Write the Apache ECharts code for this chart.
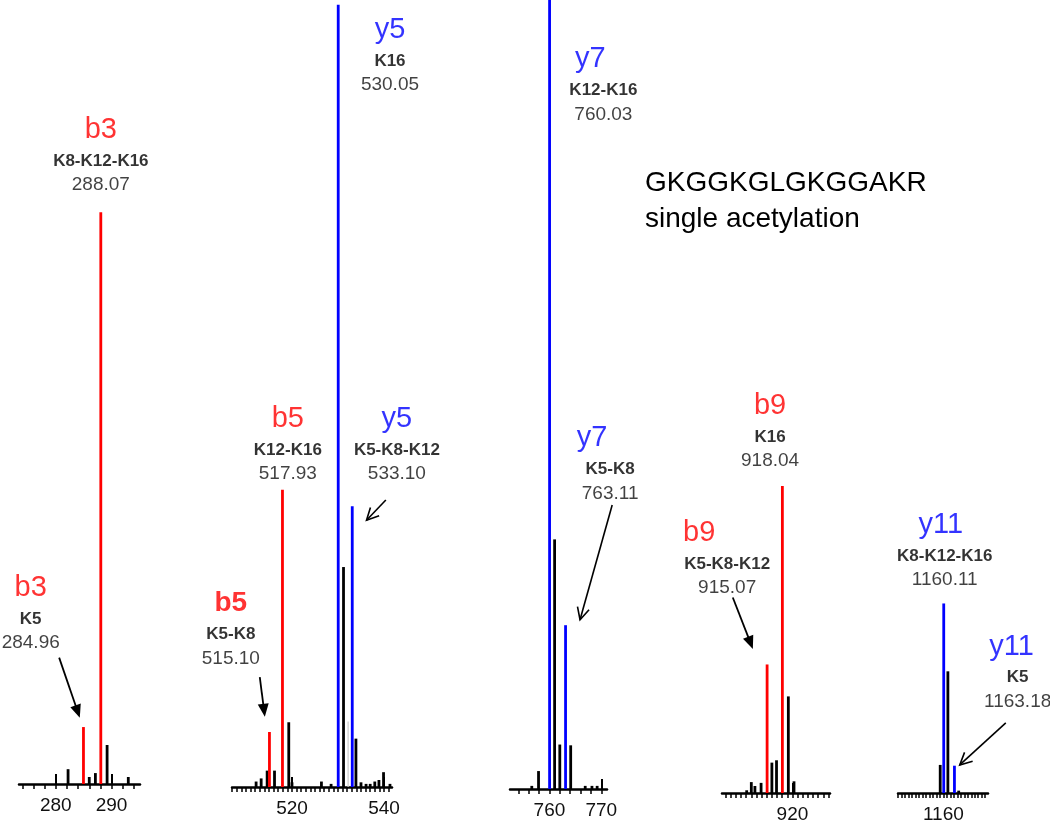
<!DOCTYPE html>
<html><head><meta charset="utf-8">
<script src="https://cdn.jsdelivr.net/npm/echarts@6/dist/echarts.min.js"></script>
<style>html,body{margin:0;padding:0;background:#fff}#c{width:1050px;height:824px}</style>
</head><body><div id="c"></div>
<script>
// ---------- DATA ----------
// peak m/z, relative intensity (% of full panel height) and ion colour code
const p1Mz  = [282.2, 284.96, 286.0, 287.1, 288.07, 289.2, 293.0];
const p1Int = [1.9, 7.3, 0.9, 1.4, 73.3, 5.0, 0.9];
const p1Ion = ['k','r','k','k','r','k','k'];

const p2Mz  = [512.2, 513.3, 514.6, 515.10, 516.2, 517.93, 519.3, 520.0, 526.4, 528.5, 530.05, 531.2, 532.2, 533.10, 533.9, 535.0, 536.1, 537.0, 538.0, 538.9, 539.9, 541.3];
const p2Int = [0.7, 1.1, 2.1, 7.05, 2.1, 38.1, 8.3, 0.6, 0.7, 0.4, 100.3, 28.2, 8.4, 36.0, 6.2, 0.6, 0.4, 0.4, 0.7, 0.9, 1.9, 0.4];
const p2Ion = ['k','k','k','r','k','r','k','k','k','k','b','k','g','b','k','k','k','k','k','k','k','k'];

const p3Mz  = [756.6, 757.9, 760.03, 761.0, 762.0, 763.11, 764.1, 766.9, 768.2, 769.2];
const p3Int = [0.4, 2.3, 101.2, 32.0, 5.7, 21.0, 5.6, 0.4, 0.4, 0.4];
const p3Ion = ['k','k','b','k','k','b','k','k','k','k'];

const p4Mz  = [911.1, 912.0, 912.7, 913.9, 915.07, 916.0, 916.9, 918.04, 919.2, 920.3];
const p4Int = [0.35, 1.4, 0.9, 1.3, 16.5, 3.9, 4.2, 39.4, 12.4, 1.5];
const p4Ion = ['k','k','k','k','r','k','k','r','k','k'];

const p5Mz  = [1159.1, 1160.11, 1161.3, 1163.18, 1164.4];
const p5Int = [3.6, 24.3, 15.6, 3.5, 0.3];
const p5Ion = ['k','b','k','b','k'];

// axis ranges and tick labels
const axisMin = [273.4, 506.96, 752.4, 906.3, 1147.0];
const axisMax = [295.1, 541.74, 771.1, 927.3, 1172.8];
const tickLabels = [[280, 290], [520, 540], [760, 770], [920], [1160]];
const minorStep = [2, 1, 2, 1, 1];

// annotation texts
const noteIon = ['b3','b3','y5','b5','y5','b5','y7','y7','b9','b9','y11','y11'];
const noteMod = ['K8-K12-K16','K5','K16','K12-K16','K5-K8-K12','K5-K8','K12-K16','K5-K8','K16','K5-K8-K12','K8-K12-K16','K5'];
const noteVal = ['288.07','284.96','530.05','517.93','533.10','515.10','760.03','763.11','918.04','915.07','1160.11','1163.18'];
const noteColor = ['r','r','b','r','b','r','b','b','r','r','b','b'];
const notePanel = [0,0,1,1,1,1,2,2,3,3,4,4];
// anchor of each annotation (m/z, intensity) in data units
const noteMz = [288.08, 275.5, 541.3, 519.1, 542.8, 506.7, 770.4, 771.7, 915.65, 907.3, 1160.4, 1181.3];
const noteAt = [76.8, 18.1, 90.0, 40.1, 40.1, 16.5, 86.5, 37.9, 42.6, 26.3, 27.3, 11.7];

// arrows: panel, from (m/z, intensity), to (m/z, intensity), filled head
const arrowPanel = [0, 1, 1, 2, 3, 4];
const arrowFrom = [[280.6,16.2],[540.4,36.8],[513.0,14.1],[772.1,36.4],[908.4,25.1],[1177.9,9.0]];
const arrowTo   = [[284.3,8.5],[536.2,34.2],[514.1,9.0],[765.9,21.7],[912.3,18.5],[1164.7,3.6]];
const arrowFilled = [true,false,true,false,true,false];

const titleLines = ['GKGGKGLGKGGAKR', 'single acetylation'];

// ---------- LAYOUT / STYLE ----------
const layout = [
  {left:19, width:121, axisY:784},
  {left:232, width:160, axisY:787},
  {left:510, width:97, axisY:789},
  {left:722, width:108, axisY:794},
  {left:898, width:90, axisY:793}
];
const H = 780;
const FONT = '"Liberation Sans", Arial, sans-serif';
const COL = {k:'#000000', r:'#ff0000', b:'#0000ff', g:'#c8c8c8'};
const ionDx = [0,0,0,0,0,0,-13,-18,0,-28,-4,-6];
const strongIdx = 5;

const panels = [
  [p1Mz,p1Int,p1Ion],[p2Mz,p2Int,p2Ion],[p3Mz,p3Int,p3Ion],[p4Mz,p4Int,p4Ion],[p5Mz,p5Int,p5Ion]
];
const codeOf = {k:0, r:1, b:2, g:3};
const colorByCode = [COL.k, COL.r, COL.b, COL.g];

const grid = [], xAxis = [], yAxis = [], series = [];

function peakRender(params, api){
  const x = api.value(0), y = api.value(1), c = api.value(2);
  const a = api.coord([x, 0]), b = api.coord([x, y]);
  return {type:'line', shape:{x1:a[0], y1:a[1], x2:b[0], y2:b[1]},
    style:{stroke: colorByCode[c], lineWidth: c===3 ? 1.2 : 2.8, lineCap:'butt'}};
}
function arrowRender(params, api){
  const a = api.coord([api.value(0), api.value(1)]);
  const b = api.coord([api.value(2), api.value(3)]);
  const filled = api.value(4) === 1;
  const dx = b[0]-a[0], dy = b[1]-a[1], len = Math.hypot(dx,dy);
  const ux = dx/len, uy = dy/len;
  const hl = filled ? 13 : 12, hw = filled ? 5.5 : 6;
  const bx = b[0]-ux*hl, by = b[1]-uy*hl;
  const l = [bx - uy*hw, by + ux*hw], r = [bx + uy*hw, by - ux*hw];
  const children = [];
  if (filled) {
    children.push({type:'line', shape:{x1:a[0],y1:a[1],x2:bx+ux*2,y2:by+uy*2}, style:{stroke:'#000', lineWidth:1.8}});
    children.push({type:'polygon', shape:{points:[b, l, r]}, style:{fill:'#000'}});
  } else {
    children.push({type:'line', shape:{x1:a[0],y1:a[1],x2:b[0],y2:b[1]}, style:{stroke:'#000', lineWidth:1.6}});
    children.push({type:'polyline', shape:{points:[l, b, r]}, style:{stroke:'#000', lineWidth:1.6, fill:null}});
  }
  return {type:'group', children};
}

panels.forEach((p, i) => {
  const L = layout[i];
  grid.push({left:L.left, width:L.width, top:L.axisY - H, height:H, containLabel:false});
  const minor = [];
  for (let v = Math.ceil(axisMin[i]/minorStep[i])*minorStep[i]; v <= axisMax[i]; v += minorStep[i]) minor.push(+v.toFixed(3));
  xAxis.push({type:'value', gridIndex:i, min:axisMin[i], max:axisMax[i],
    axisLine:{show:true, onZero:false, lineStyle:{color:'#000', width:2.5}},
    axisTick:{show:true, customValues:minor, length:5, lineStyle:{color:'#000', width:1.5}},
    axisLabel:{show:true, customValues:tickLabels[i], formatter:v => String(v), fontSize:19, color:'#111', margin:12, fontFamily:FONT},
    splitLine:{show:false}});
  xAxis.push({type:'value', gridIndex:i, min:axisMin[i], max:axisMax[i],
    axisLine:{show:false}, axisLabel:{show:false}, splitLine:{show:false},
    axisTick:{show:true, customValues:tickLabels[i], length:10, lineStyle:{color:'#000', width:2}}});
  yAxis.push({type:'value', gridIndex:i, min:0, max:100, show:false});
  series.push({type:'custom', xAxisIndex:2*i, yAxisIndex:i, silent:true, clip:false,
    renderItem:peakRender, data:p[0].map((m,j) => [m, p[1][j], codeOf[p[2][j]]])});

  // annotations: three text lines stacked above the anchor point
  const items = [];
  noteIon.forEach((ion, k) => {
    if (notePanel[k] !== i) return;
    const strong = k === strongIdx;
    const base = {value:[noteMz[k], noteAt[k]], symbolSize:0};
    items.push(Object.assign({}, base, {label:{show:true, position:[ionDx[k], -55], align:'center', verticalAlign:'middle',
      formatter:ion, fontSize: strong ? 28 : 29, fontWeight: strong ? 'bold' : 'normal',
      color:COL[noteColor[k]], fontFamily:FONT}}));
    items.push(Object.assign({}, base, {label:{show:true, position:[0, -24], align:'center', verticalAlign:'middle',
      formatter:noteMod[k], fontSize:17, fontWeight:'bold', color:'#000', fontFamily:FONT}}));
    items.push(Object.assign({}, base, {label:{show:true, position:[0, 0], align:'center', verticalAlign:'middle',
      formatter:noteVal[k], fontSize:19, color:'#111', fontFamily:FONT}}));
  });
  series.push({type:'scatter', xAxisIndex:2*i, yAxisIndex:i, silent:true, clip:false, symbolSize:0,
    labelLayout:{hideOverlap:false}, data:items});

  const arr = [];
  arrowPanel.forEach((pn, k) => {
    if (pn !== i) return;
    arr.push([arrowFrom[k][0], arrowFrom[k][1], arrowTo[k][0], arrowTo[k][1], arrowFilled[k] ? 1 : 0]);
  });
  if (arr.length) series.push({type:'custom', xAxisIndex:2*i, yAxisIndex:i, silent:true, clip:false,
    renderItem:arrowRender, data:arr});
});

const chart = echarts.init(document.getElementById('c'), null, {renderer:'canvas'});
chart.setOption({
  animation:false,
  backgroundColor:'#fff',
  title:{text:titleLines.join('\n'), left:640, top:160,
    textStyle:{fontSize:28, fontWeight:'normal', color:'#000', fontFamily:FONT, lineHeight:36}},
  grid, xAxis, yAxis, series
});
</script>
</body></html>
